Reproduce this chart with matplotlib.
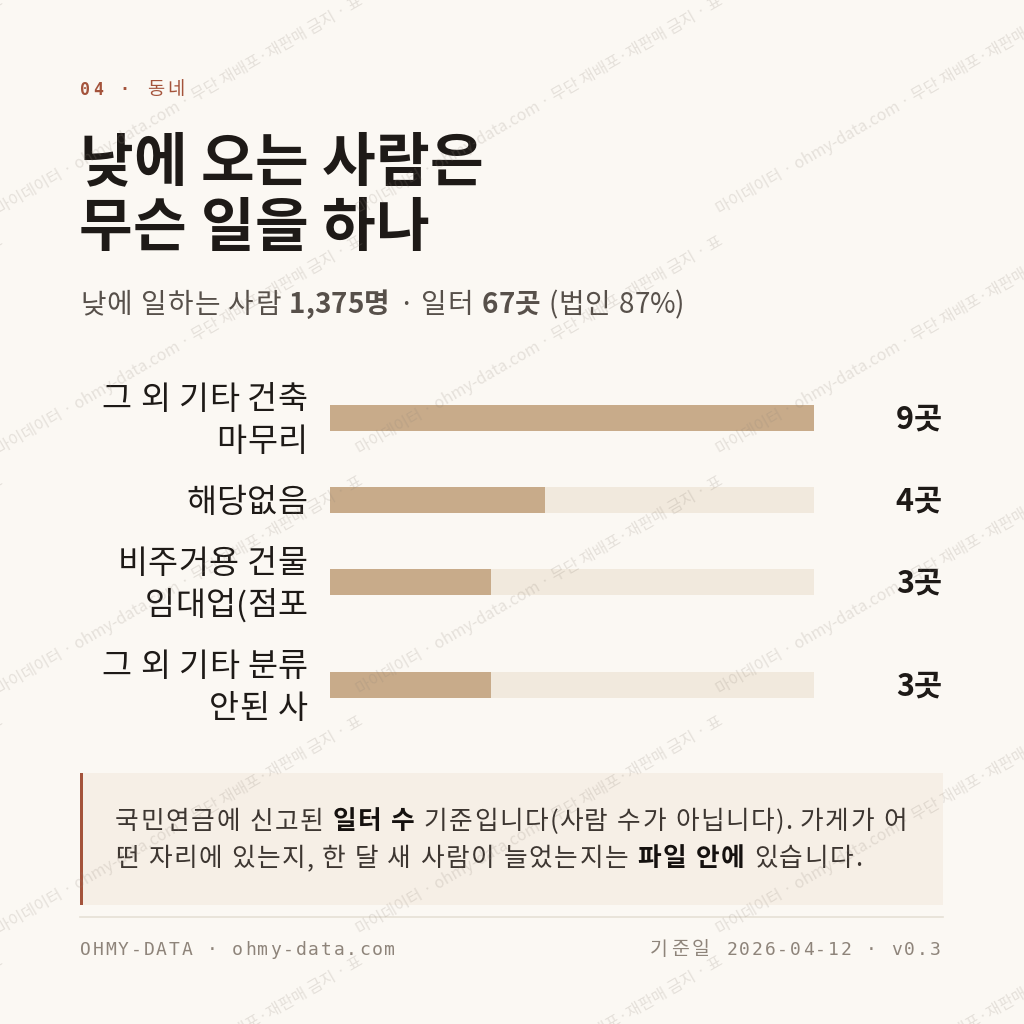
import matplotlib
matplotlib.use("Agg")
import matplotlib.pyplot as plt
from matplotlib.patches import Rectangle

# data
labels = [["그 외 기타 건축", "마무리"], ["해당없음"], ["비주거용 건물", "임대업(점포"], ["그 외 기타 분류", "안된 사"]]
values = [9, 4, 3, 3]
unit = "곳"

kicker_num = "04 · "
kicker_txt = "동네"
title_lines = ["낮에 오는 사람은", "무슨 일을 하나"]
subtitle = [("낮에 일하는 사람 ", "normal"), ("1,375명", "bold"), (" · 일터 ", "normal"),
            ("67곳", "bold"), (" (법인 87%)", "normal")]
note_lines = [
    [("국민연금에 신고된 ", "normal"), ("일터 수", "bold"), (" 기준입니다(사람 수가 아닙니다). 가게가 어", "normal")],
    [("떤 자리에 있는지, 한 달 새 사람이 늘었는지는 ", "normal"), ("파일 안에", "bold"), (" 있습니다.", "normal")],
]
footer_left = "OHMY-DATA · ohmy-data.com"
footer_right_kr = "기준일"
footer_right = "2026-04-12 · v0.3"
watermark = "마이데이터 · ohmy-data.com · 무단 재배포·재판매 금지 · 표"

BG = "#FBF8F3"
BAR = "#C8AB8A"
TRACK = "#F1E9DD"
RUST = "#A4533B"
INK = "#1E1A17"
SUB = "#57504A"
GREY = "#8E847A"
KR = ["Noto Sans CJK KR", "DejaVu Sans"]
MONO = ["DejaVu Sans Mono", "Noto Sans CJK KR"]

W = 1024
fig = plt.figure(figsize=(10.24, 10.24), dpi=100, facecolor=BG)
lay = fig.add_axes([0, 0, 1, 1])
lay.set_xlim(0, W)
lay.set_ylim(W, 0)
lay.axis("off")
renderer = fig.canvas.get_renderer()


def char_w(ch, size, weight, family):
    t = lay.text(0, 0, ch, fontsize=size, fontweight=weight, family=family)
    w = t.get_window_extent(renderer).width
    t.remove()
    return w


def gap_for(ch, spacing, every):
    # extra tracking: only hangul and blanks, unless every char is asked for
    if every or ch == " " or "\uac00" <= ch <= "\ud7a3":
        return spacing
    return 0


def run_width(parts, size, family, spacing, every=False):
    total = 0
    for txt, weight in parts:
        for ch in txt:
            total += char_w(ch, size, weight, family) + gap_for(ch, spacing, every)
    return total


def run(x, y, parts, size, color, family=KR, bold_color=None, ha="left", spacing=0,
        va="baseline", every=False):
    cx = x - run_width(parts, size, family, spacing, every) if ha == "right" else x
    for txt, weight in parts:
        c = bold_color if (weight == "bold" and bold_color) else color
        for ch in txt:
            t = lay.text(cx, y, ch, fontsize=size, fontweight=weight, family=family,
                         color=c, va=va)
            cx += t.get_window_extent(renderer).width + gap_for(ch, spacing, every)
    return cx


# kicker
x = run(80, 95, [(kicker_num, "bold")], 12, RUST, family=MONO, spacing=3, every=True)
run(x + 2, 95, [(kicker_txt, "normal")], 13.5, RUST, spacing=3)

# title
for i, line in enumerate(title_lines):
    run(79, 181 + i * 65, [(line, "bold")], 42, INK, spacing=0.3)

# subtitle
run(80, 313, subtitle, 20, SUB, spacing=1.2)

# bars: row centres from the label line counts
line_h, gap, top = 42, 19, 376
centres = []
y = top
for lab in labels:
    h = line_h * len(lab)
    centres.append(y + h / 2)
    y += h + gap

bax = fig.add_axes([330 / W, 0, 484 / W, 1])
bax.set_xlim(0, max(values))
bax.set_ylim(W, 0)
bax.axis("off")
bax.barh(centres, [max(values)] * len(values), height=26, color=TRACK)
bax.barh(centres, values, height=26, color=BAR)

for c, lab, v in zip(centres, labels, values):
    n = len(lab)
    for j, part in enumerate(lab):
        yy = c + (j - (n - 1) / 2) * line_h + 3
        run(308, yy, [(part, "normal")], 23.5, INK, ha="right", spacing=0.5, va="center")
    run(942, c + 2, [(f"{v}{unit}", "bold")], 22, INK, ha="right", va="center")

# note box
lay.add_patch(Rectangle((80, 773), 863, 132, facecolor="#F6EFE6", edgecolor="none"))
lay.add_patch(Rectangle((80, 773), 3, 132, facecolor=RUST, edgecolor="none"))
for i, parts in enumerate(note_lines):
    run(115, 829 + i * 37, parts, 18.5, "#3D3631", bold_color="#15110F", spacing=1.7)

# divider + footer
lay.plot([80, 943], [917, 917], color="#E6E0D6", lw=1.2)
run(80, 955, [(footer_left, "normal")], 13, GREY, family=MONO, spacing=1.8, every=True)
run(942, 955, [(footer_right, "normal")], 13, GREY, family=MONO, spacing=1.8, ha="right", every=True)
date_w = run_width([(footer_right, "normal")], 13, MONO, 1.8, every=True)
run(942 - date_w - 14, 955, [(footer_right_kr, "normal")], 14, GREY, ha="right", spacing=3)

# watermark tiles
for ty in range(-25, 1300, 240):
    for tx in range(-360, 1100, 360):
        fig.text(tx / W, 1 - ty / W, watermark, fontsize=11.5, family=KR, color="#8F8479",
                 alpha=0.2, rotation=30, rotation_mode="anchor", ha="left", va="baseline")

fig.savefig("out.png", dpi=100, facecolor=BG)
